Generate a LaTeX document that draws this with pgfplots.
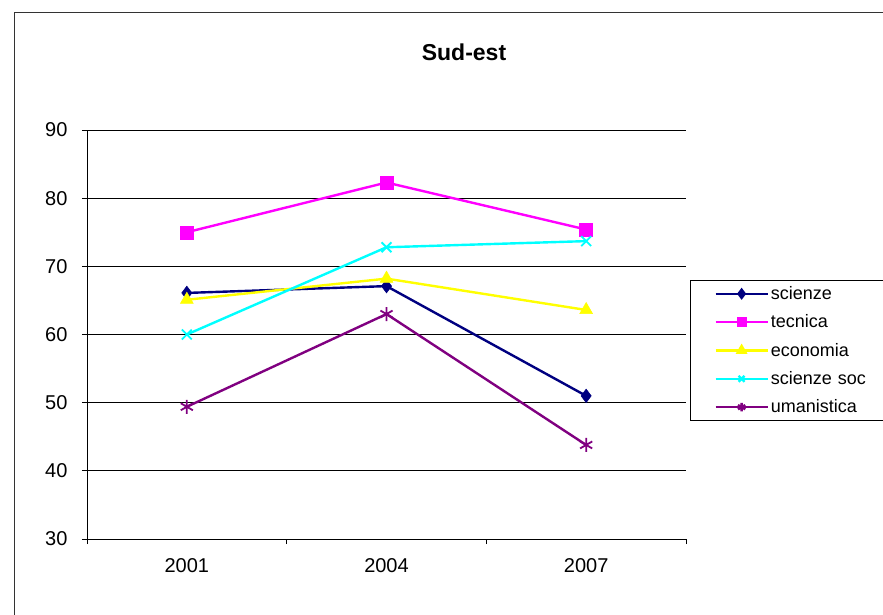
\documentclass[border=0pt]{standalone}
\usepackage{fontspec}
\setmainfont{Liberation Sans}
\usepackage{pgfplots}
\pgfplotsset{compat=1.18}

\definecolor{cnavy}{RGB}{0,0,128}
\definecolor{cmag}{RGB}{255,0,255}
\definecolor{cyel}{RGB}{255,255,0}
\definecolor{ccyan}{RGB}{0,255,255}
\definecolor{cpurp}{RGB}{128,0,128}

\begin{document}
\begin{tikzpicture}
\path[use as bounding box] (0,0) rectangle (883pt,-614pt);
\draw[black!80, line width=1pt] (14pt,-640pt) -- (14pt,-12pt) -- (900pt,-12pt);
\node[font=\fontsize{23}{27}\selectfont\bfseries] at (464pt,-52pt) {Sud-est};

\begin{axis}[
  scale only axis,
  width=599pt, height=409pt,
  anchor=south west, at={(87pt,-539pt)},
  xmin=0.5, xmax=3.5,
  ymin=30, ymax=90,
  ytick={30,40,50,60,70,80,90},
  xtick={1,2,3},
  xticklabels={2001,2004,2007},
  minor xtick={0.5,1.5,2.5,3.5},
  axis x line*=bottom,
  axis y line*=left,
  axis line style={black, line width=0.8pt},
  tick align=outside,
  major tick length=5pt,
  minor tick length=5pt,
  x tick style={draw=none},
  minor x tick style={draw=black, line width=0.8pt},
  y tick style={black, line width=0.8pt},
  ymajorgrids,
  grid style={black, line width=0.8pt},
  tick label style={font=\fontsize{20}{24}\selectfont},
  /pgf/number format/assume math mode=true,
  yticklabel style={xshift=-11pt},
  xticklabel style={yshift=-11pt},
  every axis plot/.append style={line width=2.4pt},
  legend style={
    at={(rel axis cs:1.0067,0.633)}, anchor=north west,
    draw=black, line width=0.8pt,
    font=\fontsize{18}{21}\selectfont,
    inner xsep=24pt, inner ysep=4pt,
    row sep=9.8pt,
    text width=140pt,
    /tikz/every even column/.append style={column sep=2pt},
  },
  legend cell align=left,
  legend image code/.code={
    \draw[line width=2.4pt, mark repeat=2, mark phase=2, mark options={scale=0.6}]
      plot coordinates {(0pt,0pt) (26pt,0pt) (52pt,0pt)};
  },
]
\addplot[cnavy, mark=diamond*, mark size=6.8pt, mark options={solid, line width=0.5pt}]
  coordinates {(1,66.1) (2,67.1) (3,51.0)};
\addplot[cmag, mark=square*, mark size=6.5pt, mark options={solid, line width=0.5pt}]
  coordinates {(1,75.0) (2,82.3) (3,75.4)};
\addplot[cyel, mark=triangle*, mark size=7.5pt, mark options={solid, line width=0.5pt}]
  coordinates {(1,65.1) (2,68.2) (3,63.6)};
\addplot[ccyan, mark=x, mark size=7pt, mark options={solid, line width=1.8pt}]
  coordinates {(1,60.0) (2,72.8) (3,73.7)};
\addplot[cpurp, mark=asterisk, mark size=7pt, mark options={solid, line width=1.8pt}]
  coordinates {(1,49.4) (2,63.0) (3,43.8)};
\legend{scienze, tecnica, economia, scienze soc, umanistica}
\end{axis}
\end{tikzpicture}
\end{document}
